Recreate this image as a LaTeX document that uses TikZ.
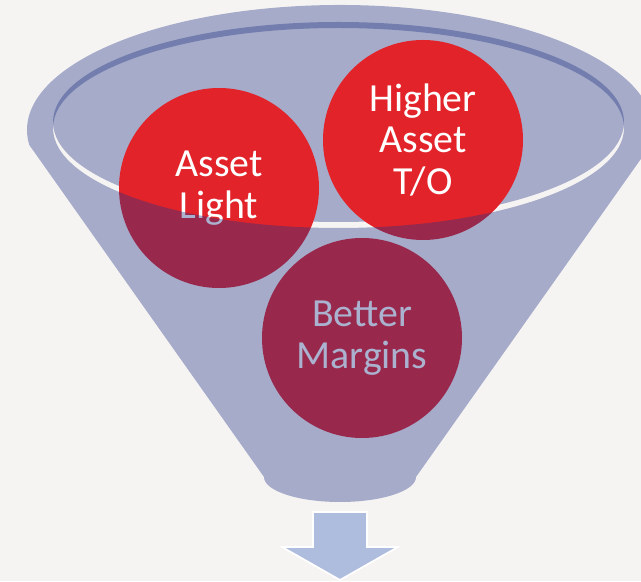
\documentclass[tikz,border=0pt]{standalone}
\usepackage{fontspec}
\setmainfont{Carlito}
\definecolor{paper}{RGB}{246,244,243}
\definecolor{funnelblue}{RGB}{35,53,133}
\definecolor{ballred}{RGB}{226,35,42}
\definecolor{arrowblue}{RGB}{174,188,221}
\tikzset{
    %Define style for the balls
    ball/.style={
           circle,
           fill=ballred,
           text=white,
           minimum size=6cm,
           inner sep=0pt,
           align=center,
           font=\fontsize{34}{35.4}\selectfont},
    %Define style for the see-through funnel
    glass/.style={
           fill=funnelblue,
           fill opacity=0.38},
}

\begin{document}
\begin{tikzpicture}[x=0.03cm,y=0.03cm]
    \fill[paper] (0,0) rectangle (641,581);
    \useasboundingbox (0,0) rectangle (641,581);
    \clip (0,0) rectangle (641,581);
    % inside of the funnel
    \fill[glass] (338.5,459) ellipse [x radius=285.5, y radius=100];
    \node (light) [ball] at (219,393) {Asset\\Light};
    \node (turnover) [ball] at (423,441) {Higher\\Asset\\T/O};
    \node (margins) [ball] at (362,243) {Better\\Margins};
    % front of the funnel
    \fill[glass,even odd rule] (264,104) -- (29.3,436)
        arc [start angle=186.9, end angle=-6.9, x radius=313, y radius=125]
        -- (416,104)
        arc [start angle=0, end angle=-180, x radius=76, y radius=25] -- cycle
        (338.5,453) ellipse [x radius=285.5, y radius=100];
    % output arrow
    \draw[white,line width=1.5pt,fill=arrowblue,line join=miter]
        (313,69) -- (367,69) -- (367,34) -- (398,34) -- (340,1)
        -- (282,34) -- (313,34) -- cycle;
\end{tikzpicture}
\end{document}
